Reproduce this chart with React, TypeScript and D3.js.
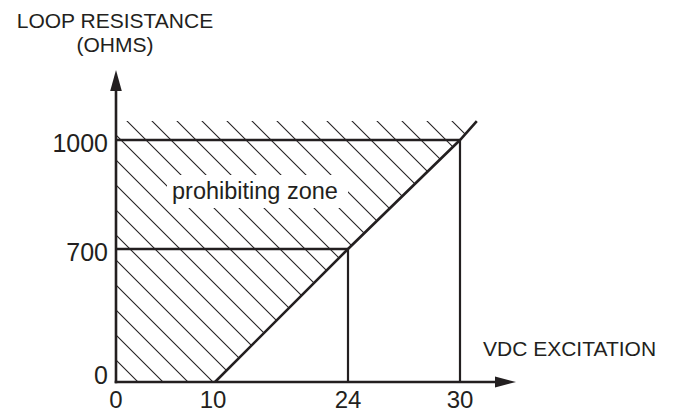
import React from 'react'
import * as d3 from 'd3'

const width = 677
const height = 412

// excitation voltage (VDC) tick values and loop resistance (ohms) tick values
const xTicks = [0, 10, 24, 30]
const yTicks = [0, 700, 1000]

// boundary of the prohibiting zone: max loop resistance per excitation voltage
const boundVolts = [10, 24, 30, 30.9]
const boundOhms = [0, 700, 1000, 1052]

// guide lines from the boundary to the axes
const guideVolts = [24, 30]
const guideOhms = [700, 1000]

const hatchTopOhms = 1052
const xAxisEnd = 33
const yAxisEnd = 1193

const ink = '#231f20'
const font = '"Liberation Sans", Arial, Helvetica, sans-serif'

const x = d3.scaleLinear().domain(xTicks).range([116, 215, 348, 460])
const y = d3.scaleLinear().domain(yTicks).range([382, 249, 140])

export default function App() {
  const bound = boundVolts.map((v, i) => [x(v), y(boundOhms[i])] as [number, number])
  const lineFn = d3.line()

  const zone: [number, number][] = [
    [x(0), y(0)],
    ...bound,
    [x(0), y(hatchTopOhms)],
  ]

  // 45 degree hatch lines, x - y = c
  const hatch = d3.range(-269, 380, 25).map(c => ({ x1: c + 100, y1: 100, x2: c + 400, y2: 400 }))

  const ax = x(xAxisEnd)
  const ay = y(yAxisEnd)

  return (
    <svg width={width} height={height} style={{ position: 'absolute', left: 0, top: 0, background: '#fff' }}>
      <defs>
        <clipPath id="zone">
          <path d={lineFn(zone) + 'Z'} />
        </clipPath>
      </defs>
      <rect width={width} height={height} fill="#fff" />

      <g clipPath="url(#zone)">
        {hatch.map((h, i) => (
          <line key={i} {...h} stroke={ink} strokeWidth={1.1} />
        ))}
      </g>

      <rect x={167} y={175} width={181} height={33} fill="#fff" />
      <text x={172} y={199} fontFamily={font} fontSize={23.5} fill={ink}>prohibiting zone</text>

      {/* horizontal guides at 700 and 1000 ohms */}
      {guideOhms.map((o, i) => (
        <line key={'h' + o} x1={x(0)} x2={x(guideVolts[i])} y1={y(o)} y2={y(o)} stroke={ink} strokeWidth={2.6} />
      ))}
      {/* vertical guides at 24 and 30 V */}
      {guideVolts.map((v, i) => (
        <line key={'v' + v} x1={x(v)} x2={x(v)} y1={y(guideOhms[i])} y2={y(0)} stroke={ink} strokeWidth={2.2} />
      ))}

      <path d={lineFn(bound) || ''} fill="none" stroke={ink} strokeWidth={2.6} />

      {/* axes */}
      <line x1={x(0)} x2={x(0)} y1={y(0) + 1.3} y2={ay + 18} stroke={ink} strokeWidth={2.6} />
      <path d={`M${x(0)},${ay}L${x(0) - 5.8},${ay + 21}L${x(0) + 5.8},${ay + 21}Z`} fill={ink} />
      <line x1={x(0) - 1.3} x2={ax - 18} y1={y(0)} y2={y(0)} stroke={ink} strokeWidth={2.6} />
      <path d={`M${ax},${y(0)}L${ax - 21},${y(0) - 5.5}L${ax - 21},${y(0) + 5.5}Z`} fill={ink} />

      {/* tick labels */}
      {yTicks.map(t => (
        <text key={'yt' + t} x={108} y={y(t) + (t === 0 ? 1.5 : 11.5)} textAnchor="end"
          fontFamily={font} fontSize={25} fill={ink}>{t}</text>
      ))}
      {xTicks.map(t => (
        <text key={'xt' + t} x={x(t) - (t === 10 ? 2 : 0)} y={408} textAnchor="middle"
          fontFamily={font} fontSize={24} fill={ink}>{t}</text>
      ))}

      {/* axis titles */}
      <text x={115} y={28} textAnchor="middle" fontFamily={font} fontSize={21} fill={ink}>LOOP RESISTANCE</text>
      <text x={115} y={52} textAnchor="middle" fontFamily={font} fontSize={21} fill={ink}>(OHMS)</text>
      <text x={483} y={356} fontFamily={font} fontSize={21} fill={ink}>VDC EXCITATION</text>
    </svg>
  )
}
